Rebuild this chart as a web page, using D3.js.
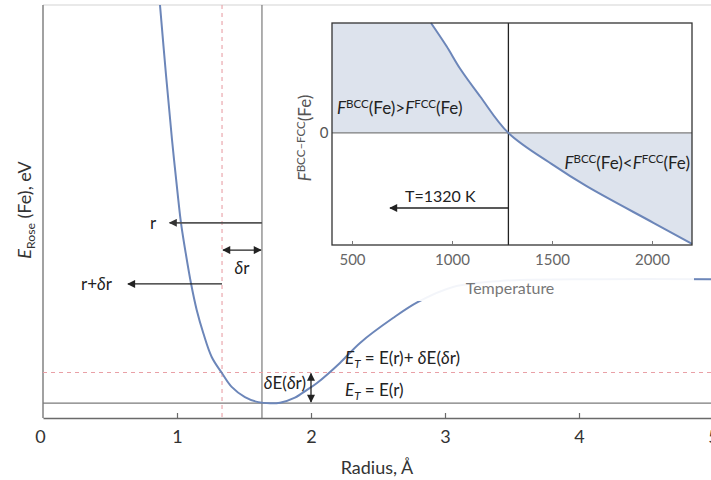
<!DOCTYPE html>
<html><head><meta charset="utf-8">
<script src="https://cdn.jsdelivr.net/npm/d3@7"></script>
<style>
body{margin:0;background:#fff}
svg{display:block;font-family:Lato,"Open Sans",sans-serif}
</style>
</head><body>
<svg id="chart" width="711" height="480"></svg>
<script>
// Rose universal binding curve for Fe (radius in Å, energy in eV)
const radius = [0.873, 0.918, 0.963, 1.010, 1.030, 1.065, 1.104, 1.147, 1.196, 1.259, 1.334, 1.408, 1.507, 1.607, 1.694, 1.769, 1.880, 1.970, 2.045, 2.216, 2.366, 2.612, 2.799, 3.060, 3.41, 4.16, 5.0];
const energy = [9.0, 6.66, 4.49, 2.48, 1.715, 0.71, -0.29, -1.19, -1.96, -2.76, -3.29, -3.76, -4.10, -4.27, -4.31, -4.29, -4.12, -3.86, -3.63, -2.96, -2.29, -1.46, -0.92, -0.42, -0.22, -0.16, -0.16];
const radiusTicks = [0, 1, 2, 3, 4, 5];

// Reference points on the curve
const rEq = 1.634, rShift = 1.336;     // r and r+δr
const eMin = -4.30, eT = -3.28;        // E(r) and E(r)+δE(δr)

// BCC–FCC free energy difference vs temperature (arbitrary units)
const temperature = [895, 973, 1040, 1140, 1282, 1507, 1673, 2007, 2200];
const freeEnergy = [0.99, 0.78, 0.58, 0.33, 0.0, -0.29, -0.48, -0.81, -1.0];
const tempTicks = [500, 1000, 1500, 2000];
const tTransition = 1282;

const svg = d3.select("#chart");
const W = 711, H = 480;

const x = d3.scaleLinear().domain([0, 5]).range([43, 713]);
const y = d3.scaleLinear().domain([-4.8, 9.0]).range([418, 5]);

const defs = svg.append("defs");
function arrowMarker(id, color) {
  defs.append("marker").attr("id", id)
    .attr("viewBox", "0 0 10 10").attr("refX", 9).attr("refY", 5)
    .attr("markerWidth", 10).attr("markerHeight", 8)
    .attr("markerUnits", "userSpaceOnUse")
    .attr("orient", "auto-start-reverse")
    .append("path").attr("d", "M0,0 L10,5 L0,10 z").attr("fill", color);
}
arrowMarker("ahDark", "#222");
arrowMarker("ahGrey", "#333");

defs.append("clipPath").attr("id", "plotClip")
  .append("rect").attr("x", 43).attr("y", 5).attr("width", W - 43).attr("height", 413);

// rich text helper: parts = [{t, i, sub, sup}]
function rich(g, parts, size) {
  parts.forEach(p => {
    const ts = g.append("tspan").text(p.t);
    if (p.i) ts.attr("font-style", "italic");
    if (p.sub) ts.attr("font-size", size * 0.68).attr("baseline-shift", -size * 0.22);
    if (p.sup) ts.attr("font-size", size * 0.68).attr("baseline-shift", size * 0.38);
  });
  return g;
}

// frame
svg.append("line").attr("x1", 43).attr("x2", W).attr("y1", 5).attr("y2", 5)
  .attr("stroke", "#d4d4d4").attr("stroke-width", 1.2);
svg.append("line").attr("x1", 43).attr("x2", 43).attr("y1", 5).attr("y2", 418)
  .attr("stroke", "#8a8a8a").attr("stroke-width", 1.6);

// bottom axis, ticks pointing inward
const xAxis = d3.axisBottom(x).tickValues(radiusTicks).tickFormat(d3.format("d"))
  .tickSizeInner(-5).tickSizeOuter(0).tickPadding(12);
const gx = svg.append("g").attr("transform", "translate(0,418)").call(xAxis);
gx.select(".domain").attr("stroke", "#6a6a6a").attr("stroke-width", 1.6);
gx.selectAll(".tick line").attr("stroke", "#6a6a6a").attr("stroke-width", 1.2);
gx.selectAll(".tick text").attr("font-size", 18).attr("fill", "#333").attr("font-family", "Lato,sans-serif");
gx.selectAll(".tick").filter(d => d === 0).select("line").remove();
gx.selectAll(".tick").filter(d => d === 0).select("text").attr("dx", -3);

svg.append("text").attr("x", 377).attr("y", 474).attr("text-anchor", "middle")
  .attr("font-size", 18).attr("fill", "#333").text("Radius, Å");

rich(svg.append("text").attr("transform", "translate(31,210) rotate(-90)")
  .attr("text-anchor", "middle").attr("font-size", 18).attr("fill", "#333"),
  [{t: "E", i: true}, {t: "Rose", sub: true}, {t: " (Fe), eV"}], 18);

// reference lines
const ref = svg.append("g");
ref.append("line").attr("x1", x(rEq)).attr("x2", x(rEq)).attr("y1", 5).attr("y2", 418)
  .attr("stroke", "#7a7a7a").attr("stroke-width", 1.2);
ref.append("line").attr("x1", x(rShift)).attr("x2", x(rShift)).attr("y1", 5).attr("y2", 418)
  .attr("stroke", "#e9a0a6").attr("stroke-width", 1.1).attr("stroke-dasharray", "4,4");
ref.append("line").attr("x1", 43).attr("x2", W).attr("y1", y(eT)).attr("y2", y(eT))
  .attr("stroke", "#e9a0a6").attr("stroke-width", 1.1).attr("stroke-dasharray", "4,4");
ref.append("line").attr("x1", 43).attr("x2", W).attr("y1", y(eMin)).attr("y2", y(eMin))
  .attr("stroke", "#7a7a7a").attr("stroke-width", 1.2);

// the binding curve
const pts = radius.map((r, i) => [r, energy[i]]);
svg.append("path").datum(pts).attr("clip-path", "url(#plotClip)")
  .attr("fill", "none").attr("stroke", "#6c86b9").attr("stroke-width", 2)
  .attr("d", d3.line().x(d => x(d[0])).y(d => y(d[1])).curve(d3.curveCatmullRom.alpha(0.5)));

// annotations
const ann = svg.append("g").attr("font-size", 17).attr("fill", "#222");
// r arrow
ann.append("line").attr("x1", x(rEq)).attr("x2", x(0.945)).attr("y1", y(1.72)).attr("y2", y(1.72))
  .attr("stroke", "#555").attr("stroke-width", 1.6).attr("marker-end", "url(#ahGrey)");
ann.append("text").attr("x", 153).attr("y", y(1.72) + 6).attr("text-anchor", "middle").text("r");
// r+δr arrow
ann.append("line").attr("x1", x(rShift)).attr("x2", x(0.634)).attr("y1", y(-0.32)).attr("y2", y(-0.32))
  .attr("stroke", "#222").attr("stroke-width", 1.3).attr("marker-end", "url(#ahDark)");
rich(ann.append("text").attr("x", 81).attr("y", y(-0.32) + 6), [{t: "r+"}, {t: "δ", i: true}, {t: "r"}], 17);
// δr double arrow
ann.append("line").attr("x1", x(rShift) + 1).attr("x2", x(rEq) - 1).attr("y1", y(0.81)).attr("y2", y(0.81))
  .attr("stroke", "#222").attr("stroke-width", 1.3)
  .attr("marker-start", "url(#ahDark)").attr("marker-end", "url(#ahDark)");
rich(ann.append("text").attr("x", x((rShift + rEq) / 2)).attr("y", y(0.81) + 24).attr("text-anchor", "middle"),
  [{t: "δ", i: true}, {t: "r"}], 17);
// δE double arrow
ann.append("line").attr("x1", x(2.0)).attr("x2", x(2.0)).attr("y1", y(eT) + 1).attr("y2", y(eMin) - 1)
  .attr("stroke", "#222").attr("stroke-width", 1.3)
  .attr("marker-start", "url(#ahDark)").attr("marker-end", "url(#ahDark)");
rich(ann.append("text").attr("x", 306).attr("y", 389).attr("text-anchor", "end"),
  [{t: "δ", i: true}, {t: "E("}, {t: "δ", i: true}, {t: "r)"}], 17);
rich(ann.append("text").attr("x", 345).attr("y", 364),
  [{t: "E", i: true}, {t: "T", i: true, sub: true}, {t: " = E(r)+ "}, {t: "δ", i: true}, {t: "E("}, {t: "δ", i: true}, {t: "r)"}], 17);
rich(ann.append("text").attr("x", 345).attr("y", 396),
  [{t: "E", i: true}, {t: "T", i: true, sub: true}, {t: " = E(r)"}], 17);

// translucent backdrop of the inset
svg.append("rect").attr("x", 290).attr("y", 14).attr("width", 404).attr("height", 287)
  .attr("fill", "#fff").attr("opacity", 0.92);

// ---- inset: free energy difference ----
const ix = d3.scaleLinear().domain([400, 2200]).range([332, 692]);
const iy = d3.scaleLinear().domain([-1.01, 0.99]).range([245, 23]);
const inset = svg.append("g");

const ipts = temperature.map((t, i) => [t, freeEnergy[i]]);
const icurve = d3.curveCatmullRom.alpha(0.5);
// shaded regions between curve and zero
inset.append("rect").attr("x", ix(400)).attr("y", iy(0.99)).attr("width", ix(temperature[0]) - ix(400))
  .attr("height", iy(0) - iy(0.99)).attr("fill", "#dde3ed");
inset.append("path").datum(ipts).attr("fill", "#dde3ed")
  .attr("d", d3.area().x(d => ix(d[0])).y0(iy(0)).y1(d => iy(d[1])).curve(icurve));

inset.append("line").attr("x1", ix(400)).attr("x2", ix(2200)).attr("y1", iy(0)).attr("y2", iy(0))
  .attr("stroke", "#7d7d7d").attr("stroke-width", 1.3);
inset.append("line").attr("x1", ix(tTransition)).attr("x2", ix(tTransition)).attr("y1", iy(0.99)).attr("y2", iy(-1.01))
  .attr("stroke", "#222").attr("stroke-width", 1.3);
inset.append("path").datum(ipts).attr("fill", "none").attr("stroke", "#6c86b9").attr("stroke-width", 2)
  .attr("d", d3.line().x(d => ix(d[0])).y(d => iy(d[1])).curve(icurve));

inset.append("rect").attr("x", 332).attr("y", 23).attr("width", 360).attr("height", 222)
  .attr("fill", "none").attr("stroke", "#333").attr("stroke-width", 1.3);

const iAxis = d3.axisBottom(ix).tickValues(tempTicks).tickFormat(d3.format("d"))
  .tickSizeInner(-4).tickSizeOuter(0).tickPadding(9);
const gi = inset.append("g").attr("transform", "translate(0,245)").call(iAxis);
gi.select(".domain").remove();
gi.selectAll(".tick line").attr("stroke", "#777");
gi.selectAll(".tick text").attr("font-size", 15).attr("fill", "#666").attr("font-family", "Lato,sans-serif");

inset.append("text").attr("x", 324).attr("y", iy(0) + 5).attr("text-anchor", "middle")
  .attr("font-size", 15).attr("fill", "#555").text("0");
rich(inset.append("text").attr("transform", "translate(311,138) rotate(-90)")
  .attr("text-anchor", "middle").attr("font-size", 17).attr("fill", "#555"),
  [{t: "F", i: true}, {t: "BCC–FCC", sup: true}, {t: "(Fe)"}], 17);
inset.append("text").attr("x", 510).attr("y", 294).attr("text-anchor", "middle")
  .attr("font-size", 16).attr("fill", "#777").text("Temperature");

const it = inset.append("g").attr("font-size", 17).attr("fill", "#222");
rich(it.append("text").attr("x", 337).attr("y", 114),
  [{t: "F", i: true}, {t: "BCC", sup: true}, {t: "(Fe)>"}, {t: "F", i: true}, {t: "FCC", sup: true}, {t: "(Fe)"}], 17);
rich(it.append("text").attr("x", 690).attr("y", 169).attr("text-anchor", "end"),
  [{t: "F", i: true}, {t: "BCC", sup: true}, {t: "(Fe)<"}, {t: "F", i: true}, {t: "FCC", sup: true}, {t: "(Fe)"}], 17);
it.append("text").attr("x", 405).attr("y", 202).attr("font-size", 16).text("T=1320 K");
it.append("line").attr("x1", ix(tTransition)).attr("x2", 390).attr("y1", 208).attr("y2", 208)
  .attr("stroke", "#222").attr("stroke-width", 1.3).attr("marker-end", "url(#ahDark)");
</script>
</body></html>
